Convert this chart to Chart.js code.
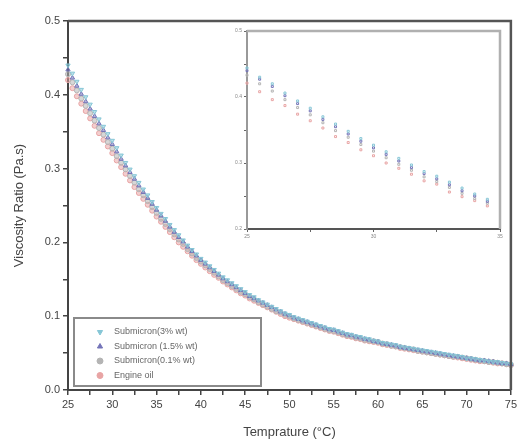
<!DOCTYPE html>
<html>
<head>
<meta charset="utf-8">
<script src="https://cdn.jsdelivr.net/npm/chart.js@4.4.0/dist/chart.umd.min.js"></script>
<style>
  html, body { margin: 0; padding: 0; background: #fff; }
  #wrap { position: relative; width: 520px; height: 444px; }
  #main { position: absolute; left: 0; top: 0; }
  #inset { position: absolute; left: 222px; top: 26px; }
</style>
</head>
<body>
<div id="wrap">
  <canvas id="main" width="520" height="444"></canvas>
  <canvas id="inset" width="283" height="215"></canvas>
</div>
<script>
// temperatures (°C), main plot, 0.5 °C steps
const temps = [
  25, 25.5, 26, 26.5, 27, 27.5, 28, 28.5, 29, 29.5,
  30, 30.5, 31, 31.5, 32, 32.5, 33, 33.5, 34, 34.5,
  35, 35.5, 36, 36.5, 37, 37.5, 38, 38.5, 39, 39.5,
  40, 40.5, 41, 41.5, 42, 42.5, 43, 43.5, 44, 44.5,
  45, 45.5, 46, 46.5, 47, 47.5, 48, 48.5, 49, 49.5,
  50, 50.5, 51, 51.5, 52, 52.5, 53, 53.5, 54, 54.5,
  55, 55.5, 56, 56.5, 57, 57.5, 58, 58.5, 59, 59.5,
  60, 60.5, 61, 61.5, 62, 62.5, 63, 63.5, 64, 64.5,
  65, 65.5, 66, 66.5, 67, 67.5, 68, 68.5, 69, 69.5,
  70, 70.5, 71, 71.5, 72, 72.5, 73, 73.5, 74, 74.5,
  75];

const labels = ['Submicron(3% wt)', 'Submicron (1.5% wt)', 'Submicron(0.1% wt)', 'Engine oil'];

// viscosity ratio (Pa.s)
const sub3 = [
  0.440, 0.429, 0.418, 0.407, 0.397, 0.387, 0.377, 0.367, 0.357, 0.347,
  0.338, 0.328, 0.318, 0.308, 0.299, 0.290, 0.281, 0.272, 0.264, 0.255,
  0.247, 0.239, 0.232, 0.224, 0.217, 0.210, 0.203, 0.196, 0.190, 0.184,
  0.178, 0.173, 0.168, 0.163, 0.158, 0.153, 0.149, 0.145, 0.141, 0.137,
  0.133, 0.129, 0.126, 0.122, 0.119, 0.116, 0.113, 0.110, 0.107, 0.104,
  0.102, 0.099, 0.097, 0.095, 0.093, 0.091, 0.089, 0.087, 0.085, 0.083,
  0.082, 0.080, 0.078, 0.076, 0.075, 0.073, 0.072, 0.070, 0.069, 0.067,
  0.066, 0.064, 0.063, 0.062, 0.061, 0.059, 0.058, 0.057, 0.056, 0.055,
  0.054, 0.053, 0.052, 0.051, 0.050, 0.049, 0.048, 0.047, 0.046, 0.045,
  0.043, 0.043, 0.042, 0.041, 0.040, 0.039, 0.038, 0.038, 0.037, 0.036,
  0.035];
const sub15 = [
  0.434, 0.423, 0.412, 0.401, 0.391, 0.381, 0.371, 0.361, 0.352, 0.342,
  0.333, 0.323, 0.313, 0.304, 0.295, 0.286, 0.277, 0.268, 0.260, 0.252,
  0.244, 0.236, 0.229, 0.221, 0.214, 0.207, 0.201, 0.194, 0.188, 0.182,
  0.176, 0.171, 0.166, 0.161, 0.156, 0.151, 0.147, 0.143, 0.139, 0.135,
  0.131, 0.127, 0.124, 0.121, 0.118, 0.115, 0.112, 0.109, 0.106, 0.103,
  0.101, 0.098, 0.096, 0.094, 0.092, 0.090, 0.088, 0.086, 0.084, 0.082,
  0.081, 0.079, 0.077, 0.075, 0.074, 0.072, 0.071, 0.069, 0.068, 0.066,
  0.065, 0.063, 0.062, 0.061, 0.060, 0.058, 0.057, 0.056, 0.055, 0.054,
  0.053, 0.052, 0.051, 0.050, 0.049, 0.048, 0.047, 0.046, 0.045, 0.044,
  0.043, 0.042, 0.041, 0.040, 0.040, 0.039, 0.038, 0.037, 0.036, 0.036,
  0.035];
const sub01 = [
  0.428, 0.417, 0.406, 0.395, 0.385, 0.375, 0.365, 0.355, 0.346, 0.336,
  0.327, 0.317, 0.308, 0.299, 0.290, 0.281, 0.272, 0.264, 0.256, 0.248,
  0.240, 0.232, 0.225, 0.218, 0.211, 0.204, 0.198, 0.191, 0.185, 0.179,
  0.174, 0.169, 0.164, 0.159, 0.154, 0.149, 0.145, 0.141, 0.137, 0.133,
  0.130, 0.126, 0.123, 0.119, 0.116, 0.113, 0.110, 0.107, 0.105, 0.102,
  0.100, 0.097, 0.095, 0.093, 0.091, 0.089, 0.087, 0.085, 0.083, 0.081,
  0.080, 0.078, 0.076, 0.074, 0.073, 0.071, 0.070, 0.068, 0.067, 0.066,
  0.065, 0.063, 0.062, 0.060, 0.059, 0.058, 0.057, 0.056, 0.055, 0.053,
  0.052, 0.051, 0.050, 0.049, 0.048, 0.047, 0.046, 0.045, 0.045, 0.044,
  0.043, 0.042, 0.041, 0.040, 0.039, 0.038, 0.038, 0.037, 0.036, 0.035,
  0.034];
const oil = [
  0.420, 0.409, 0.398, 0.388, 0.378, 0.368, 0.358, 0.348, 0.339, 0.330,
  0.321, 0.311, 0.302, 0.293, 0.284, 0.275, 0.267, 0.259, 0.251, 0.243,
  0.235, 0.228, 0.221, 0.214, 0.207, 0.200, 0.194, 0.188, 0.182, 0.176,
  0.171, 0.166, 0.161, 0.156, 0.152, 0.147, 0.143, 0.139, 0.135, 0.131,
  0.128, 0.124, 0.121, 0.118, 0.115, 0.112, 0.109, 0.106, 0.103, 0.100,
  0.098, 0.096, 0.094, 0.092, 0.090, 0.088, 0.086, 0.084, 0.082, 0.080,
  0.079, 0.077, 0.075, 0.073, 0.072, 0.070, 0.069, 0.067, 0.066, 0.065,
  0.064, 0.062, 0.061, 0.060, 0.059, 0.057, 0.056, 0.055, 0.054, 0.053,
  0.052, 0.051, 0.050, 0.049, 0.048, 0.047, 0.046, 0.045, 0.044, 0.043,
  0.042, 0.041, 0.040, 0.039, 0.039, 0.038, 0.037, 0.036, 0.036, 0.035,
  0.034];

// inset (25–35 °C zoom)
const insetTemps = [25, 25.5, 26, 26.5, 27, 27.5, 28, 28.5, 29, 29.5, 30, 30.5, 31, 31.5, 32, 32.5, 33, 33.5, 34, 34.5];
const insetSub3 = [0.444, 0.430, 0.420, 0.406, 0.394, 0.383, 0.370, 0.359, 0.348, 0.337, 0.327, 0.317, 0.307, 0.297, 0.287, 0.280, 0.271, 0.262, 0.253, 0.245];
const insetSub15 = [0.440, 0.427, 0.416, 0.402, 0.390, 0.379, 0.366, 0.355, 0.344, 0.333, 0.323, 0.313, 0.303, 0.293, 0.284, 0.276, 0.267, 0.258, 0.250, 0.242];
const insetSub01 = [0.433, 0.420, 0.409, 0.396, 0.384, 0.373, 0.361, 0.349, 0.339, 0.328, 0.318, 0.308, 0.298, 0.289, 0.279, 0.272, 0.263, 0.254, 0.246, 0.239];
const insetOil = [0.421, 0.408, 0.396, 0.387, 0.374, 0.364, 0.353, 0.340, 0.331, 0.320, 0.311, 0.300, 0.292, 0.283, 0.273, 0.268, 0.256, 0.249, 0.243, 0.235];

const colors = ['#86c6d6', '#7474b8', '#b4b4b4', '#e8a4a4'];
const styles = [
  { pointStyle: 'triangle', rotation: 180 },
  { pointStyle: 'triangle', rotation: 0 },
  { pointStyle: 'circle', rotation: 0 },
  { pointStyle: 'circle', rotation: 0 }
];
const FONT = 'Liberation Sans, Arial, sans-serif';
const AXIS = '#444';

const pairs = (xs, ys) => xs.map((x, i) => ({ x, y: ys[i] }));

const mainSeries = [sub3, sub15, sub01, oil];
const insetSeries = [insetSub3, insetSub15, insetSub01, insetOil];

// top + right border of the plot box
const framePlugin = {
  id: 'frame',
  afterDraw(chart, args, opts) {
    const { ctx, chartArea: a } = chart;
    ctx.save();
    ctx.strokeStyle = opts.color;
    ctx.lineWidth = opts.width;
    ctx.beginPath();
    ctx.moveTo(a.left, a.top);
    ctx.lineTo(a.right, a.top);
    ctx.lineTo(a.right, a.bottom);
    ctx.stroke();
    ctx.restore();
  }
};

// boxed legend in the lower left of the plot
const legendPlugin = {
  id: 'boxLegend',
  afterDraw(chart) {
    const ctx = chart.ctx;
    ctx.save();
    ctx.strokeStyle = '#8a8a8a';
    ctx.lineWidth = 2;
    ctx.strokeRect(74, 318, 187, 68);
    ctx.font = '9px ' + FONT;
    ctx.textBaseline = 'middle';
    labels.forEach((t, i) => {
      const y = 332 + i * 14.5;
      ctx.fillStyle = colors[i];
      ctx.strokeStyle = colors[i];
      ctx.lineWidth = 1;
      Chart.helpers.drawPoint(ctx, { pointStyle: styles[i].pointStyle, rotation: styles[i].rotation, radius: 3, borderWidth: 1 }, 100, y);
      ctx.fillStyle = '#666';
      ctx.fillText(t, 114, y);
    });
    ctx.restore();
  }
};

new Chart(document.getElementById('main'), {
  type: 'scatter',
  data: {
    datasets: mainSeries.map((s, i) => ({
      label: labels[i],
      data: pairs(temps, s),
      pointStyle: styles[i].pointStyle,
      rotation: styles[i].rotation,
      pointRadius: 2.5,
      pointBorderWidth: 1,
      borderColor: colors[i],
      backgroundColor: colors[i] + '88',
      clip: false
    }))
  },
  options: {
    responsive: false,
    animation: false,
    devicePixelRatio: 1,
    layout: { padding: { left: 8, top: 21, right: 9, bottom: 0 } },
    plugins: {
      legend: { display: false },
      tooltip: { enabled: false },
      frame: { color: '#555', width: 2.5 }
    },
    scales: {
      x: {
        type: 'linear', min: 25, max: 75,
        ticks: {
          stepSize: 2.5, autoSkip: false, maxRotation: 0, padding: 3,
          color: AXIS, font: { family: FONT, size: 11 },
          callback: v => (v % 5 === 0 ? v : '')
        },
        grid: { drawOnChartArea: false, tickLength: 5, color: AXIS, lineWidth: 1.5 },
        border: { color: AXIS, width: 2 },
        title: { display: true, text: 'Temprature (°C)', color: AXIS, font: { family: FONT, size: 13 }, padding: 4 },
        afterFit: s => { s.height = 54; }
      },
      y: {
        min: 0, max: 0.5,
        ticks: {
          stepSize: 0.05, autoSkip: false, padding: 3,
          color: AXIS, font: { family: FONT, size: 11 },
          callback: v => (Math.round(v * 100) % 10 === 0 ? v.toFixed(1) : '')
        },
        grid: { drawOnChartArea: false, tickLength: 5, color: AXIS, lineWidth: 1.5 },
        border: { color: AXIS, width: 2 },
        title: { display: true, text: 'Viscosity Ratio (Pa.s)', color: AXIS, font: { family: FONT, size: 13 }, padding: 4 },
        afterFit: s => { s.width = 60; }
      }
    }
  },
  plugins: [framePlugin, legendPlugin]
});

// inset chart
new Chart(document.getElementById('inset'), {
  type: 'scatter',
  data: {
    datasets: insetSeries.map((s, i) => ({
      label: labels[i],
      data: pairs(insetTemps, s),
      pointStyle: 'rect',
      pointRadius: 1.4,
      pointBorderWidth: 1,
      borderColor: colors[i],
      backgroundColor: 'rgba(255,255,255,0)',
      clip: false
    }))
  },
  options: {
    responsive: false,
    animation: false,
    devicePixelRatio: 1,
    layout: { padding: { left: 0, top: 2, right: 2, bottom: 0 } },
    plugins: {
      legend: { display: false },
      tooltip: { enabled: false },
      frame: { color: '#b0b0b0', width: 2.5 }
    },
    scales: {
      x: {
        type: 'linear', min: 25, max: 35,
        ticks: {
          stepSize: 2.5, autoSkip: false, maxRotation: 0, padding: 2,
          color: '#888', font: { family: FONT, size: 5 },
          callback: v => (v % 5 === 0 ? v : '')
        },
        grid: { drawOnChartArea: false, tickLength: 3, color: '#666', lineWidth: 1 },
        border: { color: '#555', width: 2 },
        afterFit: s => { s.height = 12; }
      },
      y: {
        min: 0.2, max: 0.5,
        ticks: {
          stepSize: 0.05, autoSkip: false, padding: 2,
          color: '#888', font: { family: FONT, size: 5 },
          callback: v => (Math.round(v * 100) % 10 === 0 ? v.toFixed(1) : '')
        },
        grid: { drawOnChartArea: false, tickLength: 3, color: '#666', lineWidth: 1 },
        border: { color: '#999', width: 2 },
        afterFit: s => { s.width = 25; }
      }
    }
  },
  plugins: [framePlugin]
});
</script>
</body>
</html>
